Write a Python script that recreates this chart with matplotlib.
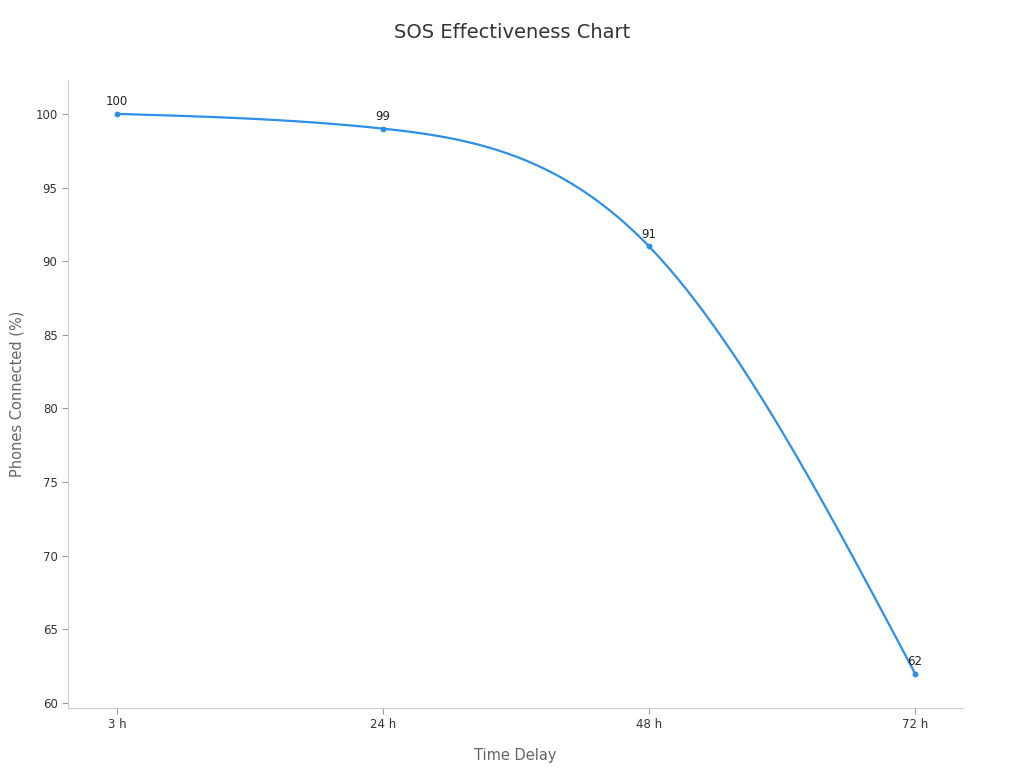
import numpy as np
import matplotlib
matplotlib.use("Agg")
import matplotlib.pyplot as plt

categories = ["3 h", "24 h", "48 h", "72 h"]
values = [100, 99, 91, 62]

fig = plt.figure(figsize=(10.24, 7.68), dpi=100)
ax = fig.add_axes([68/1024, 1-708/768, (963-68)/1024, (708-80)/768])

x = np.arange(len(values), dtype=float)
y = np.array(values, dtype=float)
# natural cubic spline through the data points
n = len(x)
A = np.zeros((n, n)); b = np.zeros(n)
A[0, 0] = A[-1, -1] = 1
for i in range(1, n - 1):
    A[i, i-1], A[i, i], A[i, i+1] = 1, 4, 1
    b[i] = 6 * (y[i+1] - 2*y[i] + y[i-1])
M = np.linalg.solve(A, b)
xs, ys = [], []
for i in range(n - 1):
    t = np.linspace(0, 1, 80)
    yy = ((1-t)*y[i] + t*y[i+1]
          + ((1-t)**3 - (1-t)) * M[i] / 6 + (t**3 - t) * M[i+1] / 6)
    xs.extend(x[i] + t); ys.extend(yy)
color = "#2e8fe8"
ax.plot(xs, ys, color=color, lw=1.6)
ax.plot(x, y, "o", color=color, ms=3.2)
for xi, yi in zip(x, y):
    ax.annotate(str(int(yi)), (xi, yi), xytext=(0, 4), textcoords="offset points",
                ha="center", va="bottom", fontsize=8.5, color="#222222")

ax.set_xlim(-0.184, 3.18)
ax.set_ylim(59.66, 102.3)
ax.set_xticks(x)
ax.set_xticklabels(categories)
ax.set_yticks(range(60, 101, 5))
ax.tick_params(labelsize=8.5, colors="#333333", length=4, color="#999999")
for s in ("top", "right"):
    ax.spines[s].set_visible(False)
for s in ("left", "bottom"):
    ax.spines[s].set_color("#cccccc")
ax.set_xlabel("Time Delay", fontsize=10.5, color="#666666", labelpad=12)
ax.set_ylabel("Phones Connected (%)", fontsize=10.5, color="#666666", labelpad=8)
fig.text(512/1024, 1-33/768, "SOS Effectiveness Chart", ha="center", va="center",
         fontsize=14, color="#333333")
fig.savefig("out.png", dpi=100)
